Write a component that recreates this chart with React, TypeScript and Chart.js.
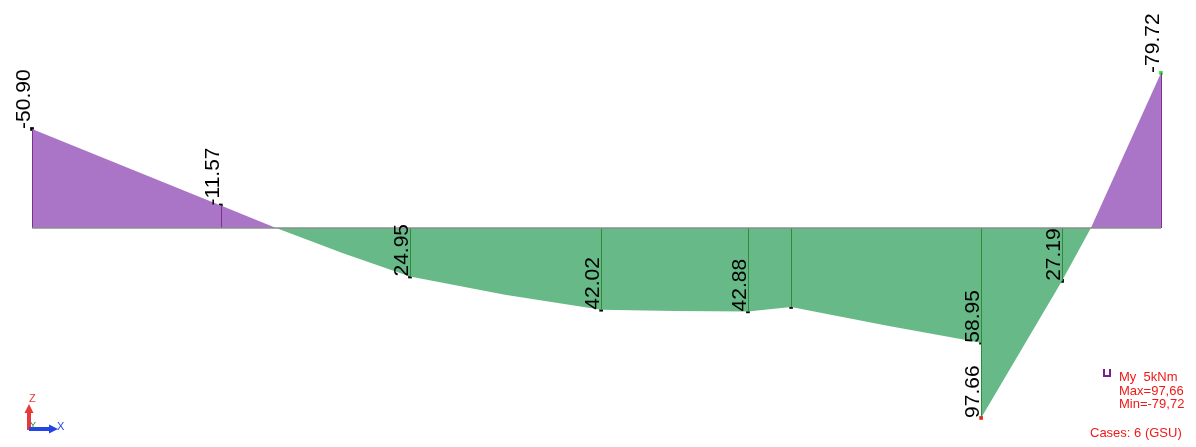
import React, { useEffect, useRef } from "react";
import { Chart, registerables } from "chart.js";

Chart.register(...registerables);

// Moment diagram outline (position along member in m, My in kNm; positive = sagging, drawn downward)
const curvePositions = [0, 4.85, 6.27, 7.99, 9.71, 12.15, 14.62, 16.52, 18.39, 19.5, 21.94, 24.38, 24.38, 26.46, 27.2, 29.0];
const curveValues = [-50.9, -11.57, 0, 13.0, 24.95, 34.3, 42.02, 42.7, 42.88, 40.6, 50.2, 58.95, 97.66, 27.19, 0, -79.72];

// Result stations (vertical hatch lines, dots and value labels)
const stationPositions = [0, 4.85, 9.71, 14.62, 18.39, 19.5, 24.38, 24.38, 26.46, 29.0];
const stationValues = [-50.9, -11.57, 24.95, 42.02, 42.88, 40.6, 58.95, 97.66, 27.19, -79.72];
const stationLabels = ["-50.90", "-11.57", "24.95", "42.02", "42.88", "", "58.95", "97.66", "27.19", "-79.72"];

// Legend texts
const legendLines = ["My  5kNm", "Max=97,66", "Min=-79,72"];
const casesText = "Cases: 6 (GSU)";

const X_MIN = -0.822;
const X_MAX = 29.9;
const Y_MIN = -117.2;
const Y_MAX = 112.6;

const PURPLE = "rgb(170,117,198)";
const GREEN = "rgb(103,186,135)";
const PURPLE_DARK = "#7d2f94";
const GREEN_DARK = "#2e8b3a";

const maxV = Math.max(...stationValues);
const minV = Math.min(...stationValues);

const diagramPlugin = {
  id: "diagram",
  afterDatasetDraw(chart: any, args: any) {
    if (args.index !== 0) return;
    const { ctx } = chart;
    const x = chart.scales.x;
    const y = chart.scales.y;
    const y0 = y.getPixelForValue(0);
    ctx.save();
    ctx.lineWidth = 1;
    stationPositions.forEach((p, i) => {
      const v = stationValues[i];
      const px = Math.round(x.getPixelForValue(p)) + 0.5;
      ctx.strokeStyle = v < 0 ? PURPLE_DARK : GREEN_DARK;
      ctx.beginPath();
      ctx.moveTo(px, y0);
      ctx.lineTo(px, y.getPixelForValue(v));
      ctx.stroke();
    });
    ctx.strokeStyle = "#8c8c8c";
    ctx.lineWidth = 1.5;
    ctx.beginPath();
    ctx.moveTo(x.getPixelForValue(curvePositions[0]), y0);
    ctx.lineTo(x.getPixelForValue(curvePositions[curvePositions.length - 1]), y0);
    ctx.stroke();
    ctx.restore();
  },
  afterDatasetsDraw(chart: any) {
    const { ctx } = chart;
    const x = chart.scales.x;
    const y = chart.scales.y;
    ctx.save();
    // rotated value labels
    ctx.font = '21px "Liberation Sans", Arial, sans-serif';
    ctx.fillStyle = "#000";
    ctx.textAlign = "left";
    ctx.textBaseline = "alphabetic";
    stationLabels.forEach((t, i) => {
      if (!t) return;
      const px = x.getPixelForValue(stationPositions[i]);
      const py = y.getPixelForValue(stationValues[i]);
      ctx.save();
      ctx.translate(px - 2, py);
      ctx.rotate(-Math.PI / 2);
      ctx.fillText(t, 0, 0);
      ctx.restore();
    });

    // legend
    ctx.strokeStyle = "#7a1f8f";
    ctx.lineWidth = 2;
    ctx.beginPath();
    ctx.moveTo(1104, 369);
    ctx.lineTo(1104, 376);
    ctx.lineTo(1110, 376);
    ctx.lineTo(1110, 369);
    ctx.stroke();
    ctx.font = '13px "Liberation Sans", Arial, sans-serif';
    ctx.fillStyle = "#f01818";
    const baselines = [381, 395, 408];
    legendLines.forEach((t, i) => ctx.fillText(t, 1119, baselines[i]));
    ctx.fillText(casesText, 1090, 437);

    // axis icon
    ctx.fillStyle = "#e8383a";
    ctx.fillRect(27, 412, 4, 18);
    ctx.beginPath();
    ctx.moveTo(24.5, 413);
    ctx.lineTo(33.5, 413);
    ctx.lineTo(29, 404);
    ctx.closePath();
    ctx.fill();
    ctx.font = '11px "Liberation Sans", Arial, sans-serif';
    ctx.fillText("Z", 29, 402);
    ctx.fillStyle = "#2444e6";
    ctx.fillRect(29, 427, 21, 4);
    ctx.beginPath();
    ctx.moveTo(49, 424.5);
    ctx.lineTo(49, 433.5);
    ctx.lineTo(58, 429);
    ctx.closePath();
    ctx.fill();
    ctx.fillText("X", 57, 430);
    ctx.fillStyle = "#1e8c2a";
    ctx.font = '9px "Liberation Sans", Arial, sans-serif';
    ctx.fillText("Y", 30, 428);
    ctx.restore();
  },
};

export default function App() {
  const ref = useRef<HTMLCanvasElement | null>(null);
  useEffect(() => {
    if (!ref.current) return;
    const chart = new Chart(ref.current, {
      type: "line",
      data: {
        datasets: [
          {
            data: curvePositions.map((p, i) => ({ x: p, y: curveValues[i] })),
            borderWidth: 0,
            borderColor: "rgba(0,0,0,0)",
            pointRadius: 0,
            tension: 0,
            fill: { target: { value: 0 }, above: PURPLE, below: GREEN },
          } as any,
          {
            data: stationPositions.map((p, i) => ({ x: p, y: stationValues[i] })),
            showLine: false,
            pointStyle: "rect",
            pointRadius: 2.6,
            borderWidth: 0,
            pointBackgroundColor: stationValues.map((v) =>
              v === maxV ? "#ff1a1a" : v === minV ? "#22ee22" : "#000"
            ),
            fill: false,
          } as any,
        ],
      },
      options: {
        animation: false,
        responsive: false,
        devicePixelRatio: 1,
        events: [],
        layout: { padding: 0, autoPadding: false },
        plugins: { legend: { display: false }, tooltip: { enabled: false } },
        scales: {
          x: { type: "linear", display: false, min: X_MIN, max: X_MAX },
          y: { type: "linear", display: false, reverse: true, min: Y_MIN, max: Y_MAX },
        },
      } as any,
      plugins: [diagramPlugin],
    });
    return () => chart.destroy();
  }, []);
  return (
    <div style={{ position: "absolute", left: 0, top: 0, width: 1196, height: 447, background: "#fff" }}>
      <canvas ref={ref} width={1196} height={447} style={{ display: "block" }} />
    </div>
  );
}
